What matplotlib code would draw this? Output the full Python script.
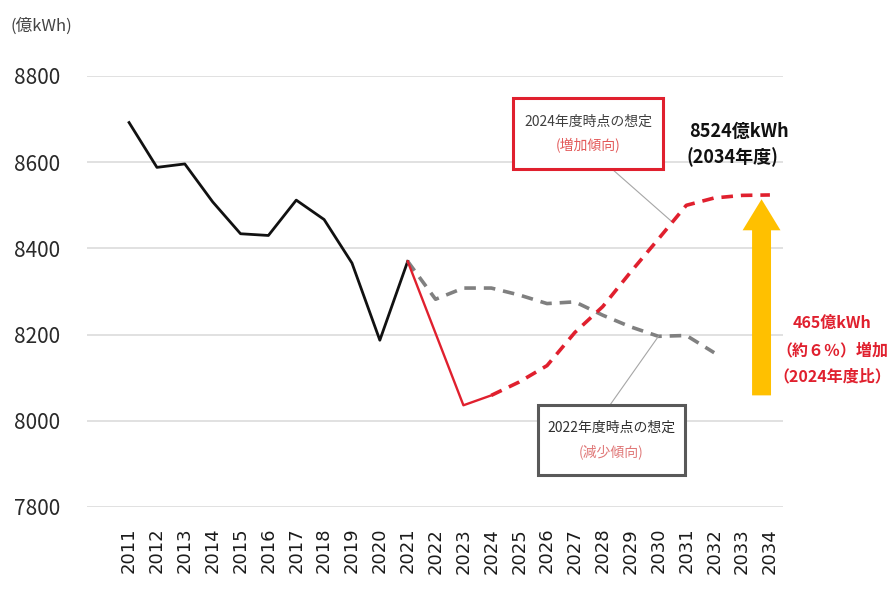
import matplotlib
matplotlib.use('Agg')
import matplotlib.pyplot as plt
from matplotlib.patches import Rectangle, FancyArrow

plt.rcParams['font.family'] = ['Noto Sans CJK JP', 'DejaVu Sans']

# data (億kWh)
years = list(range(2011, 2035))
actual_years = list(range(2011, 2022))
actual_vals = [8692, 8588, 8596, 8508, 8434, 8430, 8512, 8467, 8366, 8187, 8370]

recent_years = [2021, 2023, 2024]
recent_vals = [8370, 8036, 8059]

fc2024_years = list(range(2024, 2035))
fc2024_vals = [8059, 8090, 8128, 8205, 8265, 8345, 8422, 8500, 8517, 8523, 8524]

fc2022_years = list(range(2021, 2033))
fc2022_vals = [8370, 8282, 8308, 8308, 8292, 8272, 8276, 8245, 8218, 8196, 8198, 8158]

yticks = [7800, 8000, 8200, 8400, 8600, 8800]

W, H = 893, 593
def fp(x, y):
    # pixel position -> figure fraction
    return x / W, 1 - y / H

fig = plt.figure(figsize=(8.93, 5.93), dpi=100)
ax = fig.add_axes([87 / W, 86 / H, 696 / W, 431 / H])

ax.set_ylim(7800, 8800)
ax.set_xlim(2009.49, 2034.47)
ax.set_yticks(yticks)
ax.set_xticks(years)
ax.set_xticklabels([str(y) for y in years], rotation=90, fontsize=13,
                   family='DejaVu Sans', color='#1a1a1a')
ax.tick_params(axis='x', length=0, pad=15)
ax.tick_params(axis='y', length=0, pad=19, labelsize=15, labelcolor='#2a2a2a')
for s in ax.spines.values():
    s.set_visible(False)
ax.grid(axis='y', color='#d9d9d9', lw=1.1)
ax.set_axisbelow(True)

red = '#e0202e'
ax.plot(actual_years, actual_vals, color='#111111', lw=2.0, zorder=3)
ax.plot(fc2022_years, fc2022_vals, color='#808080', lw=2.6, dashes=(3.2, 2.2), zorder=3)
ax.plot(recent_years, recent_vals, color=red, lw=1.7, zorder=4)
ax.plot(fc2024_years, fc2024_vals, color=red, lw=2.6, dashes=(3.2, 2.2), zorder=4)

# arrow showing the increase from 2024 to 2034
arr_x = 2033.7
base = fc2024_vals[0]
top = fc2024_vals[-1] - 10
ax.add_patch(FancyArrow(arr_x, base, 0, top - base, width=0.68, head_width=1.36,
                        head_length=72, length_includes_head=True,
                        color='#FFC000', lw=0, zorder=5))

fig.text(*fp(10, 26), '(億kWh)', fontsize=12, color='#444444', va='center', ha='left')

# 2024 forecast box
x0, y0 = fp(513, 169)
x1, y1 = fp(663, 98)
fig.patches.append(Rectangle((x0, y0), x1 - x0, y1 - y0, transform=fig.transFigure,
                             fill=True, facecolor='white', edgecolor=red, lw=2.2, zorder=6))
fig.text(*fp(588, 122), '2024年度時点の想定', fontsize=10, color='#404040',
         ha='center', va='center', zorder=7)
fig.text(*fp(588, 146), '(増加傾向)', fontsize=10, color='#e35a5a',
         ha='center', va='center', zorder=7)
i = fc2024_years.index(2030)
ax.annotate('', xy=(2030.5, (fc2024_vals[i] + fc2024_vals[i + 1]) / 2),
            xytext=fp(612, 169), textcoords='figure fraction',
            arrowprops=dict(arrowstyle='-', color='#a6a6a6', lw=0.8, shrinkA=0, shrinkB=0))

# 2022 forecast box
x0, y0 = fp(538, 475)
x1, y1 = fp(685, 405)
fig.patches.append(Rectangle((x0, y0), x1 - x0, y1 - y0, transform=fig.transFigure,
                             fill=True, facecolor='white', edgecolor='#595959', lw=2.2, zorder=6))
fig.text(*fp(611, 428), '2022年度時点の想定', fontsize=10, color='#303030',
         ha='center', va='center', zorder=7)
fig.text(*fp(611, 452), '(減少傾向)', fontsize=10, color='#e07878',
         ha='center', va='center', zorder=7)
j = fc2022_years.index(2030)
ax.annotate('', xy=(2030, fc2022_vals[j]),
            xytext=fp(610, 405), textcoords='figure fraction',
            arrowprops=dict(arrowstyle='-', color='#a6a6a6', lw=0.8, shrinkA=0, shrinkB=0))

# value labels
fig.text(*fp(689, 131), '8524億kWh', fontsize=13, fontweight='bold', color='#111111',
         ha='left', va='center')
fig.text(*fp(686, 157), '(2034年度)', fontsize=13, fontweight='bold', color='#111111',
         ha='left', va='center')

fig.text(*fp(832, 323), '465億kWh', fontsize=11.5, fontweight='bold', color=red,
         ha='center', va='center')
fig.text(*fp(832, 350), '（約６％）増加', fontsize=11.5, fontweight='bold', color=red,
         ha='center', va='center')
fig.text(*fp(832, 376), '（2024年度比）', fontsize=11.5, fontweight='bold', color=red,
         ha='center', va='center')

fig.savefig('out.png', dpi=100, facecolor='white')
